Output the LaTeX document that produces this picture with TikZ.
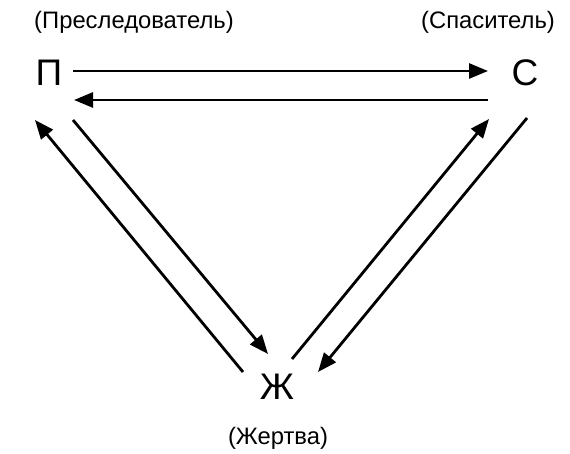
\documentclass[tikz,border=0pt]{standalone}
\usepackage{fontspec}
\setmainfont{Liberation Sans}
\usetikzlibrary{arrows.meta}
\begin{document}
\begin{tikzpicture}[x=1pt,y=-1pt,
  letter/.style={inner sep=0pt,font=\fontsize{37}{40}\selectfont},
  role/.style={inner sep=0pt,font=\fontsize{23.8}{26}\selectfont},
  conn/.style={line width=2.8pt,-{Triangle[length=19pt,width=15pt]}}]
\useasboundingbox (0,0) rectangle (570,454);
\node[letter] (P) at (49,73) {П};
\node[letter] (S) at (525,73) {С};
\node[letter] (Z) at (277,387) {Ж};
\node[role] (Pl) at (134,22) {(Преследователь)};
\node[role] (Sl) at (488,22) {(Спаситель)};
\node[role] (Zl) at (278,438) {(Жертва)};
\coordinate (a1) at (73,71);  \coordinate (a2) at (488,71);
\coordinate (b1) at (488,100); \coordinate (b2) at (74,100);
\coordinate (c1) at (243,372); \coordinate (c2) at (35,120);
\coordinate (d1) at (73,120);  \coordinate (d2) at (268,354);
\coordinate (e1) at (292,359); \coordinate (e2) at (489,119);
\coordinate (f1) at (527,118); \coordinate (f2) at (318,372);
\draw[conn] (a1) -- (a2);
\draw[conn] (b1) -- (b2);
\draw[conn] (c1) -- (c2);
\draw[conn] (d1) -- (d2);
\draw[conn] (e1) -- (e2);
\draw[conn] (f1) -- (f2);
\end{tikzpicture}
\end{document}
